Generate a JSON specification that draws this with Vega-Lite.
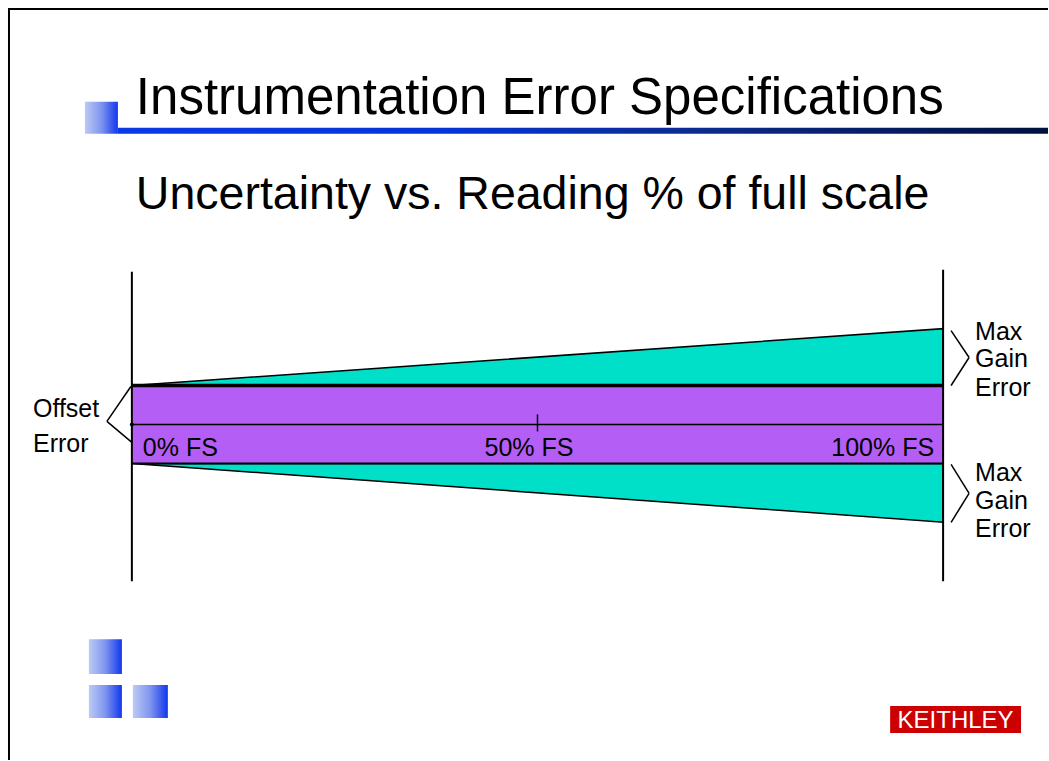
{
  "$schema": "https://vega.github.io/schema/vega-lite/v6.json",
  "width": 1049,
  "height": 761,
  "autosize": {"type": "fit", "contains": "padding"},
  "padding": 0,
  "background": "white",
  "config": {"view": {"stroke": null}, "font": "Liberation Sans"},
  "datasets": {
    "bands": [
      {"band": "upper", "x": 0, "y": 1, "y2": 1},
      {"band": "upper", "x": 100, "y": 1, "y2": 2.46},
      {"band": "lower", "x": 0, "y": -1, "y2": -1},
      {"band": "lower", "x": 100, "y": -2.51, "y2": -1}
    ],
    "boxes": [
      {"kind": "offset", "x": 0, "x2": 100, "y": -1, "y2": 1},
      {"kind": "titlebar", "x": -1.724, "x2": 112.931, "y": 7.615, "y2": 7.462},
      {"kind": "square", "x": -5.788, "x2": -1.724, "y": 8.282, "y2": 7.462},
      {"kind": "square", "x": -5.296, "x2": -1.232, "y": -5.513, "y2": -6.41},
      {"kind": "square", "x": -5.296, "x2": -1.232, "y": -6.692, "y2": -7.538},
      {"kind": "square", "x": 0.123, "x2": 4.433, "y": -6.692, "y2": -7.538},
      {"kind": "logo", "x": 93.473, "x2": 109.606, "y": -7.231, "y2": -7.923}
    ],
    "segments": [
      {"kind": "border", "x": -15.27, "x2": 112.931, "y": 10.667, "y2": 10.667},
      {"kind": "border", "x": -15.148, "x2": -15.148, "y": 10.667, "y2": -8.615},
      {"kind": "frame", "x": 0, "x2": 0, "y": 3.923, "y2": -4.026},
      {"kind": "frame", "x": 100, "x2": 100, "y": 3.974, "y2": -4.026},
      {"kind": "thin", "x": 0, "x2": 100, "y": 0, "y2": 0},
      {"kind": "thin", "x": 50, "x2": 50, "y": 0.256, "y2": -0.179},
      {"kind": "thin", "x": 100.985, "x2": 103.202, "y": 2.41, "y2": 1.718},
      {"kind": "thin", "x": 103.202, "x2": 100.985, "y": 1.718, "y2": 1.0},
      {"kind": "thin", "x": 100.985, "x2": 103.202, "y": -1.026, "y2": -1.769},
      {"kind": "thin", "x": 103.202, "x2": 100.985, "y": -1.769, "y2": -2.513},
      {"kind": "thin", "x": -0.123, "x2": -3.079, "y": 0.974, "y2": 0.077},
      {"kind": "thin", "x": -3.079, "x2": 0, "y": 0.077, "y2": -0.462},
      {"kind": "topedge", "x": 0, "x2": 100, "y": 1, "y2": 1},
      {"kind": "bottomedge", "x": 0, "x2": 100, "y": -1, "y2": -1}
    ],
    "dots": [{"x": 0, "y": 0}],
    "labels": [
      {"kind": "title", "text": "Instrumentation Error Specifications", "x": 0.493, "y": 7.974},
      {"kind": "subtitle", "text": "Uncertainty vs. Reading % of full scale", "x": 0.493, "y": 5.538},
      {"kind": "left", "text": "Offset", "x": -12.19, "y": 0.179},
      {"kind": "left", "text": "Error", "x": -12.19, "y": -0.718},
      {"kind": "left", "text": "0% FS", "x": 1.355, "y": -0.821},
      {"kind": "center", "text": "50% FS", "x": 48.95, "y": -0.821},
      {"kind": "right", "text": "100% FS", "x": 98.89, "y": -0.821},
      {"kind": "left", "text": "Max", "x": 103.94, "y": 2.179},
      {"kind": "left", "text": "Gain", "x": 103.94, "y": 1.462},
      {"kind": "left", "text": "Error", "x": 103.94, "y": 0.718},
      {"kind": "left", "text": "Max", "x": 103.94, "y": -1.462},
      {"kind": "left", "text": "Gain", "x": 103.94, "y": -2.179},
      {"kind": "left", "text": "Error", "x": 103.94, "y": -2.897},
      {"kind": "logo", "text": "KEITHLEY", "x": 101.54, "y": -7.795}
    ]
  },
  "encoding": {
    "x": {"field": "x", "type": "quantitative", "axis": null, "scale": {"domain": [-16.2562, 112.931], "nice": false, "zero": false}},
    "y": {"field": "y", "type": "quantitative", "axis": null, "scale": {"domain": [-8.6154, 10.8974], "nice": false, "zero": false}}
  },
  "layer": [
    {
      "data": {"name": "boxes"},
      "transform": [{"filter": "datum.kind === 'titlebar'"}],
      "mark": {"type": "rect", "fill": {"gradient": "linear", "stops": [{"offset": 0, "color": "#0a3ae6"}, {"offset": 0.35, "color": "#0535d8"}, {"offset": 0.62, "color": "#0b2b90"}, {"offset": 1, "color": "#00103f"}]}},
      "encoding": {"x2": {"field": "x2"}, "y2": {"field": "y2"}}
    },
    {
      "data": {"name": "boxes"},
      "transform": [{"filter": "datum.kind === 'square'"}],
      "mark": {"type": "rect", "fill": {"gradient": "linear", "stops": [{"offset": 0, "color": "#bccaf5"}, {"offset": 0.5, "color": "#7f95ef"}, {"offset": 1, "color": "#1236ee"}]}},
      "encoding": {"x2": {"field": "x2"}, "y2": {"field": "y2"}}
    },
    {
      "data": {"name": "boxes"},
      "transform": [{"filter": "datum.kind === 'logo'"}],
      "mark": {"type": "rect", "fill": "#cc0000"},
      "encoding": {"x2": {"field": "x2"}, "y2": {"field": "y2"}}
    },
    {
      "data": {"name": "segments"},
      "transform": [{"filter": "datum.kind === 'border'"}],
      "mark": {"type": "rule", "color": "black", "strokeWidth": 2},
      "encoding": {"x2": {"field": "x2"}, "y2": {"field": "y2"}}
    },
    {
      "data": {"name": "bands"},
      "mark": {"type": "area", "orient": "vertical", "fill": "#00dfc8", "fillOpacity": 1, "stroke": "black", "strokeWidth": 1.5},
      "encoding": {"y2": {"field": "y2"}, "detail": {"field": "band"}}
    },
    {
      "data": {"name": "boxes"},
      "transform": [{"filter": "datum.kind === 'offset'"}],
      "mark": {"type": "rect", "fill": "#b45ef6"},
      "encoding": {"x2": {"field": "x2"}, "y2": {"field": "y2"}}
    },
    {
      "data": {"name": "segments"},
      "transform": [{"filter": "datum.kind === 'frame'"}],
      "mark": {"type": "rule", "color": "black", "strokeWidth": 2},
      "encoding": {"x2": {"field": "x2"}, "y2": {"field": "y2"}}
    },
    {
      "data": {"name": "segments"},
      "transform": [{"filter": "datum.kind === 'thin'"}],
      "mark": {"type": "rule", "color": "black", "strokeWidth": 1.5},
      "encoding": {"x2": {"field": "x2"}, "y2": {"field": "y2"}}
    },
    {
      "data": {"name": "segments"},
      "transform": [{"filter": "datum.kind === 'topedge'"}],
      "mark": {"type": "rule", "color": "black", "strokeWidth": 3.5},
      "encoding": {"x2": {"field": "x2"}, "y2": {"field": "y2"}}
    },
    {
      "data": {"name": "segments"},
      "transform": [{"filter": "datum.kind === 'bottomedge'"}],
      "mark": {"type": "rule", "color": "black", "strokeWidth": 2},
      "encoding": {"x2": {"field": "x2"}, "y2": {"field": "y2"}}
    },
    {
      "data": {"name": "dots"},
      "mark": {"type": "point", "filled": true, "color": "black", "size": 16, "opacity": 1}
    },
    {
      "data": {"name": "labels"},
      "transform": [{"filter": "datum.kind === 'title'"}],
      "mark": {"type": "text", "align": "left", "baseline": "alphabetic", "fontSize": 51, "font": "Liberation Sans", "color": "black"},
      "encoding": {"text": {"field": "text"}}
    },
    {
      "data": {"name": "labels"},
      "transform": [{"filter": "datum.kind === 'subtitle'"}],
      "mark": {"type": "text", "align": "left", "baseline": "alphabetic", "fontSize": 46.5, "font": "Liberation Sans", "color": "black"},
      "encoding": {"text": {"field": "text"}}
    },
    {
      "data": {"name": "labels"},
      "transform": [{"filter": "datum.kind === 'left'"}],
      "mark": {"type": "text", "align": "left", "baseline": "alphabetic", "fontSize": 25, "font": "Liberation Sans", "color": "black"},
      "encoding": {"text": {"field": "text"}}
    },
    {
      "data": {"name": "labels"},
      "transform": [{"filter": "datum.kind === 'center'"}],
      "mark": {"type": "text", "align": "center", "baseline": "alphabetic", "fontSize": 25, "font": "Liberation Sans", "color": "black"},
      "encoding": {"text": {"field": "text"}}
    },
    {
      "data": {"name": "labels"},
      "transform": [{"filter": "datum.kind === 'right'"}],
      "mark": {"type": "text", "align": "right", "baseline": "alphabetic", "fontSize": 25, "font": "Liberation Sans", "color": "black"},
      "encoding": {"text": {"field": "text"}}
    },
    {
      "data": {"name": "labels"},
      "transform": [{"filter": "datum.kind === 'logo'"}],
      "mark": {"type": "text", "align": "center", "baseline": "alphabetic", "fontSize": 24, "font": "Liberation Sans", "color": "white"},
      "encoding": {"text": {"field": "text"}}
    }
  ]
}
